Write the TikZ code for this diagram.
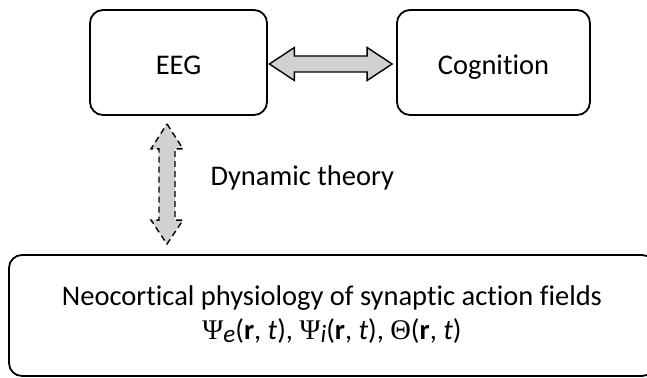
\documentclass[tikz,border=0pt]{standalone}
\usepackage{fontspec}
\setmainfont{Carlito}[Ligatures=CommonOff]
\newfontfamily\greekfont{Liberation Serif}
\usetikzlibrary{calc}
\newcommand{\lowsub}[1]{\raisebox{-3pt}{\fontsize{25}{25}\selectfont\itshape #1}}
\tikzset{
  box/.style={draw=black, line width=1.8pt, rounded corners=13pt, fill=white,
    font=\fontsize{28.5}{38}\selectfont, align=center, text height=24pt, text depth=0pt},
  harrow/.style={draw=black, line width=1.4pt, fill=black!18, line join=miter},
  varrow/.style={harrow, dash pattern=on 6pt off 4pt},
  lbl/.style={font=\fontsize{28.5}{34}\selectfont}
}
\begin{document}
\begin{tikzpicture}[x=1pt,y=-1pt]
  \useasboundingbox (0,0) rectangle (647,377);
  \begin{scope}
    \clip (0,0) rectangle (647,377);
    % upper boxes
    \node[box, minimum width=177pt, minimum height=105pt] (eeg) at (178.5,62.5) {EEG};
    \node[box, minimum width=193pt, minimum height=105pt] (cog) at (493.5,62.5) {Cognition};
    % lower box, running past the right and lower edges
    \node[box, minimum width=646pt, minimum height=121pt] (phys) at (332,315.5) {};
    \node[lbl, align=center] (physlbl) at (332,314.5) {Neocortical physiology of synaptic action fields\\[0pt]
      {\greekfont Ψ}\lowsub{e}(\textbf{r}, \textit{t}), {\greekfont Ψ}\lowsub{i}(\textbf{r}, \textit{t}), {\greekfont Θ}(\textbf{r}, \textit{t})};

    % horizontal double arrow
    \coordinate (h1) at ($(eeg.east)+(1.5,1.5)$);
    \coordinate (h2) at ($(cog.west)+(-4,1.5)$);
    \draw[harrow] (h1) -- ++(25,-16.5) -- ++(0,8.5) -- ($(h2)+(-25,-8)$) -- ++(0,-8.5)
      -- (h2) -- ++(-25,16.5) -- ++(0,-8.5) -- ($(h1)+(25,8)$) -- ++(0,8.5) -- cycle;

    % vertical dashed double arrow
    \coordinate (v1) at ($(eeg.south)+(-11.5,8)$);
    \coordinate (v2) at ($(v1 |- phys.north)+(0,-10)$);
    \draw[varrow] (v1) -- ++(16,25) -- ++(-8,0) -- ($(v2)+(8,-24)$) -- ++(8,0)
      -- (v2) -- ++(-16,-24) -- ++(8,0) -- ($(v1)+(-8,25)$) -- ++(-8,0) -- cycle;

    \node[lbl, anchor=west] (dyn) at (207,178) {Dynamic theory};
  \end{scope}
\end{tikzpicture}
\end{document}
